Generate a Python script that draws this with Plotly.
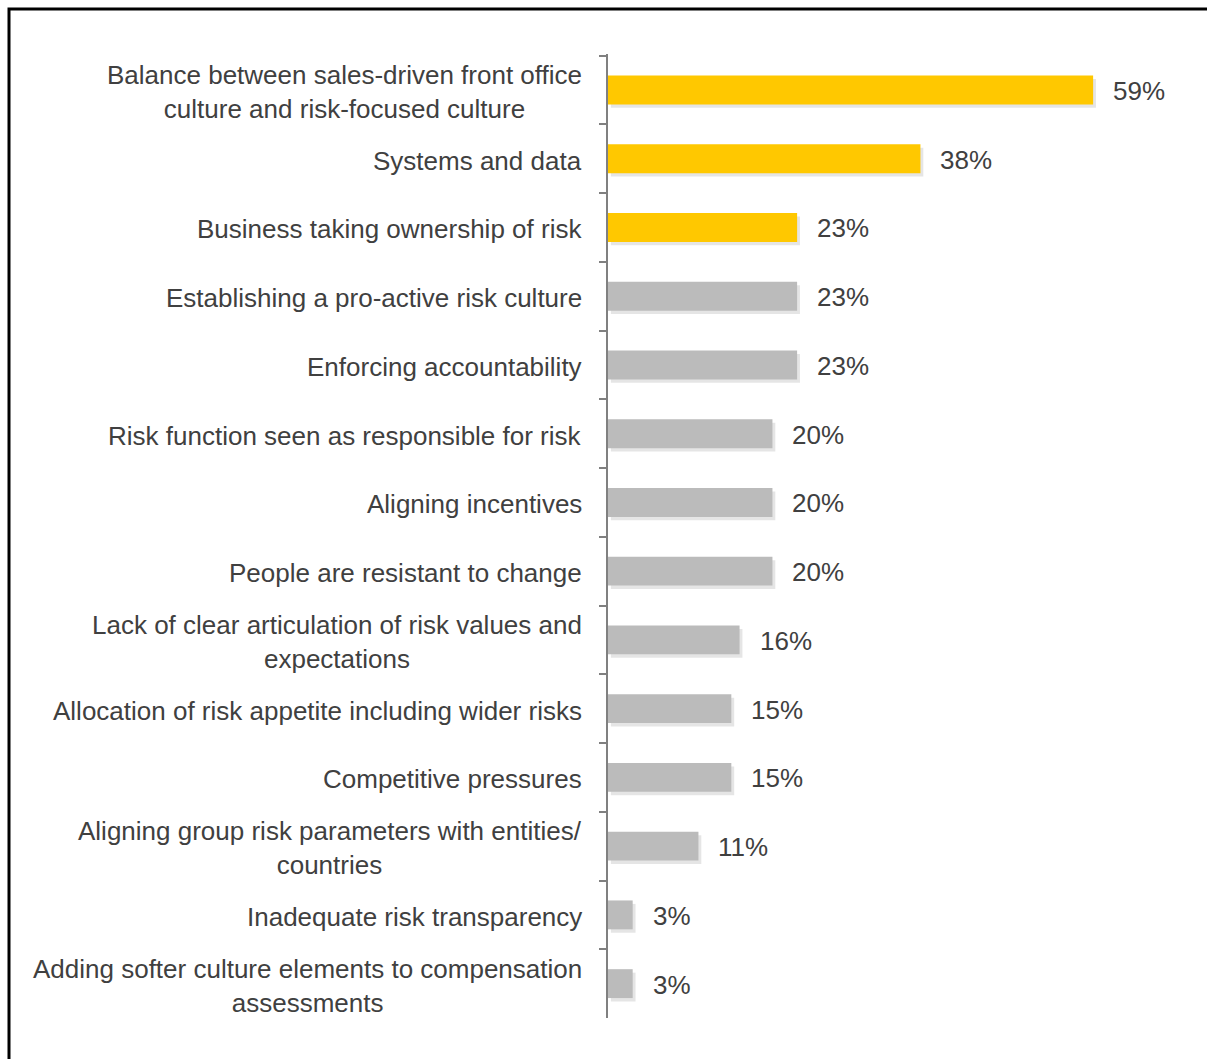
import plotly.graph_objects as go

categories = [
    "Balance between sales-driven front office<br>culture and risk-focused culture",
    "Systems and data",
    "Business taking ownership of risk",
    "Establishing a pro-active risk culture",
    "Enforcing accountability",
    "Risk function seen as responsible for risk",
    "Aligning incentives",
    "People are resistant to change",
    "Lack of clear articulation of risk values and<br>expectations",
    "Allocation of risk appetite including wider risks",
    "Competitive pressures",
    "Aligning group risk parameters with entities/<br>countries",
    "Inadequate risk transparency",
    "Adding softer culture elements to compensation<br>assessments",
]
values = [59, 38, 23, 23, 23, 20, 20, 20, 16, 15, 15, 11, 3, 3]
highlight = [True, True, True, False, False, False, False, False, False, False, False, False, False, False]
value_labels = [f"{v}%" for v in values]

YELLOW = "#FFC800"
GRAY = "#BBBBBB"
TEXT = "#404040"
FONT = "Liberation Sans, Arial, sans-serif"
FS = 26

colors = [YELLOW if h else GRAY for h in highlight]

L, R, T, B = 608, 7, 54, 41
W, H = 1207, 1059
pw, ph = W - L - R, H - T - B

def px(x):
    return (x - L) / pw

def py(y):
    return (H - B - y) / ph

fig = go.Figure()
# soft drop shadow behind bars
fig.add_trace(go.Bar(
    x=values, y=categories, orientation="h", base=0.35,
    marker=dict(color="rgba(0,0,0,0.10)", line=dict(width=0)),
    width=0.42, offset=-0.16, hoverinfo="skip",
))
fig.add_trace(go.Bar(
    x=values, y=categories, orientation="h",
    marker=dict(color=colors, line=dict(width=0)),
    width=0.42, offset=-0.21, hoverinfo="skip",
))

for c, v, t in zip(categories, values, value_labels):
    fig.add_annotation(x=v, y=c, text=t, showarrow=False, xanchor="left",
                       xshift=18, yshift=-1, font=dict(family=FONT, size=FS, color=TEXT))
    fig.add_annotation(xref="paper", x=px(584), y=c, text=c, showarrow=False,
                       xanchor="right", align="center", yshift=-2,
                       font=dict(family=FONT, size=FS, color=TEXT))

fig.add_shape(type="path", xref="paper", yref="paper",
              path=f"M {px(9)} {py(H+5)} L {px(9)} {py(9)} L {px(W+5)} {py(9)}",
              line=dict(color="black", width=3))

fig.update_layout(
    width=W, height=H,
    margin=dict(l=L, r=R, t=T, b=B, pad=0),
    paper_bgcolor="white", plot_bgcolor="white",
    showlegend=False, barmode="overlay",
    font=dict(family=FONT, size=FS, color=TEXT),
    xaxis=dict(range=[0, 72], visible=False, fixedrange=True, automargin=False),
    yaxis=dict(
        autorange="reversed", type="category", automargin=False,
        showline=True, linecolor="#808080", linewidth=2,
        ticks="outside", ticklen=7, tickwidth=2, tickcolor="#808080",
        tickson="boundaries", showgrid=False, zeroline=False,
        showticklabels=False,
    ),
)

fig.write_html("out.html")
